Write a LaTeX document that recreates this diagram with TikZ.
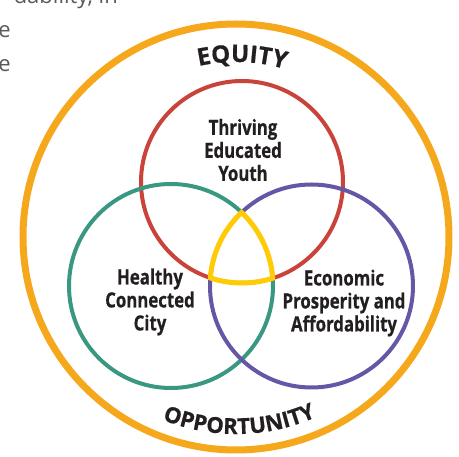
\documentclass[tikz,border=0pt]{standalone}
\usepackage{fontspec}
\setmainfont{Open Sans}
\newfontfamily\labelfont{Open Sans}[FakeStretch=0.8, FakeBold=0.6]
\newfontfamily\arcfont{Open Sans}[LetterSpace=16, FakeBold=0.6]
\newfontfamily\arcfontb{Open Sans}[LetterSpace=3, FakeBold=0.6]
\usetikzlibrary{decorations.text}

\definecolor{equityorange}{HTML}{F6A81C}
\definecolor{youthred}{HTML}{C9433B}
\definecolor{cityteal}{HTML}{3A9882}
\definecolor{econpurple}{HTML}{6556A6}
\definecolor{coreyellow}{HTML}{FFCB05}
\definecolor{inkgray}{HTML}{231F20}
\definecolor{pagegray}{HTML}{5A5A5A}

\tikzset{
  ring/.style={draw=#1, line width=4pt},
  goal/.style={font=\labelfont\bfseries\fontsize{21}{23}\selectfont, text=inkgray, align=center},
  pagetext/.style={font=\fontsize{22}{26}\selectfont, text=pagegray, inner sep=0pt},
  arctext/.style={decorate, decoration={text along path, text align=center,
      text={|\arcfont\bfseries\fontsize{24}{24}\selectfont\color{inkgray}|#1}}},
  arctextb/.style={decorate, decoration={text along path, text align=center,
      text={|\arcfontb\bfseries\fontsize{22}{22}\selectfont\color{inkgray}|#1}}}
}

\begin{document}
\begin{tikzpicture}[x=1pt, y=1pt]
    \useasboundingbox (0,0) rectangle (459,-457);
    \clip (0,0) rectangle (459,-457);

    % text of the page behind the figure
    \node[pagetext, anchor=base east] (line1) at (118,-4) {dability, in};
    \node[pagetext, anchor=base east] (line2) at (11,-38) {e};
    \node[pagetext, anchor=base east] (line3) at (11,-72) {e};

    % circle centres
    \coordinate (outer) at (236,-237);
    \coordinate (youthc) at (242,-182);
    \coordinate (cityc) at (171,-286);
    \coordinate (econc) at (311.5,-286);

    \draw[ring=equityorange, line width=7pt] (outer) circle[radius=213];

    \draw[ring=youthred] (youthc) circle[radius=101];
    \draw[ring=cityteal] (cityc) circle[radius=102];
    \draw[ring=econpurple] (econc) circle[radius=101.5];

    % the middle where all three meet
    \begin{scope}
        \clip (youthc) circle[radius=103.5];
        \clip (cityc) circle[radius=104.5];
        \clip (econc) circle[radius=104];
        \draw[ring=coreyellow, line width=5pt] (youthc) circle[radius=101]
            (cityc) circle[radius=102] (econc) circle[radius=101.5];
    \end{scope}

    \node[goal] (youth) at (243,-150) {Thriving\\Educated\\Youth};
    \node[goal] (city) at (150,-302) {Healthy\\Connected\\City};
    \node[goal] (econ) at (344,-303) {Economic\\Prosperity and\\Affordability};

    \path[arctext=EQUITY] (outer) ++(148:175) arc[start angle=148, end angle=28, radius=175];
    \path[arctextb=OPPORTUNITY] (outer) ++(201:197) arc[start angle=201, end angle=341, radius=197];
\end{tikzpicture}
\end{document}
